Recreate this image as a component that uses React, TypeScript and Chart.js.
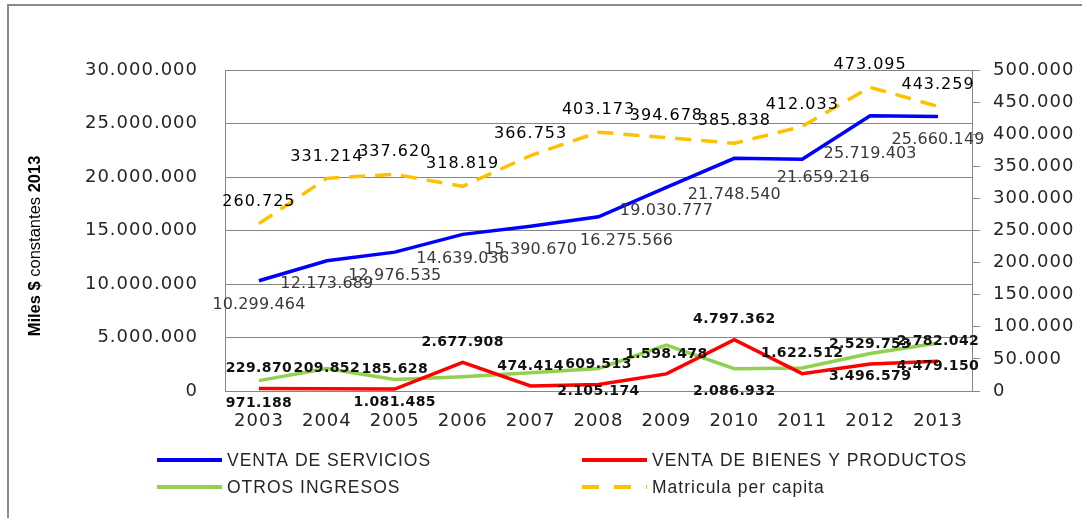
import { useEffect, useRef } from 'react';
import { Chart, registerables } from 'chart.js';

Chart.register(...registerables);

const years = ['2003', '2004', '2005', '2006', '2007', '2008', '2009', '2010', '2011', '2012', '2013'];
const ventaServicios = [10299464, 12173689, 12976535, 14639036, 15390670, 16275566, 19030777, 21748540, 21659216, 25719403, 25660149];
const ventaBienes = [229870, 209852, 185628, 2677908, 474414, 609513, 1598478, 4797362, 1622512, 2529753, 2782042];
const otrosIngresos = [971188, 2100000, 1081485, 1340000, 1710000, 2105174, 4300000, 2086932, 2150000, 3496579, 4479150];
const matricula = [260725, 331214, 337620, 318819, 366753, 403173, 394678, 385838, 412033, 473095, 443259];
const otrosLabelShown = [true, false, true, false, false, true, false, true, false, true, true];

const leftTicksMax = 30000000;
const leftTicksStep = 5000000;
const rightTicksMax = 500000;
const rightTicksStep = 50000;

const titleSegments = [
  { text: 'Miles $ ', weight: 'bold' },
  { text: 'constantes ', weight: 'normal' },
  { text: '2013', weight: 'bold' },
];

// label nudges (style only): [dx, dy] relative to point
const blueNudge = [[0, 24], [0, 23], [0, 24], [0, 24], [0, 24], [28, 24], [0, 23], [0, 37], [21, 19], [0, 38], [0, 23]];

const fmt = (n: number) => String(Math.round(n)).replace(/\B(?=(\d{3})+(?!\d))/g, '.');

const GRAY = '#868686';
const TXT = '#262626';

const spacingPlugin = {
  id: 'spacing',
  beforeDraw(chart: any) {
    chart.ctx.letterSpacing = '1px';
  },
};

const framePlugin = {
  id: 'frame',
  afterDraw(chart: any) {
    const ctx = chart.ctx;
    ctx.save();
    ctx.strokeStyle = '#8a8a8a';
    ctx.lineWidth = 2;
    ctx.strokeRect(8, 5, 1090, 530);
    ctx.restore();
  },
};

const labelsPlugin = {
  id: 'dlabels',
  afterDatasetsDraw(chart: any) {
    const ctx = chart.ctx;
    ctx.save();
    ctx.textAlign = 'center';
    ctx.textBaseline = 'middle';
    chart.data.datasets.forEach((ds: any, i: number) => {
      const meta = chart.getDatasetMeta(i);
      meta.data.forEach((pt: any, j: number) => {
        const v = ds.data[j];
        let dx = 0, dy = 0;
        if (ds.labelKind === 'blue') {
          ctx.font = 'normal 16px "DejaVu Sans"';
          ctx.letterSpacing = '0.15px';
          ctx.fillStyle = '#3a3a3a';
          dx = blueNudge[j][0];
          dy = blueNudge[j][1];
        } else if (ds.labelKind === 'red') {
          ctx.font = 'bold 14px "DejaVu Sans"';
          ctx.letterSpacing = '0.4px';
          ctx.fillStyle = '#111';
          dy = -20;
        } else if (ds.labelKind === 'green') {
          if (!otrosLabelShown[j]) return;
          ctx.font = 'bold 14px "DejaVu Sans"';
          ctx.letterSpacing = '0.4px';
          ctx.fillStyle = '#111';
          dy = 23;
        } else {
          ctx.font = 'normal 16px "DejaVu Sans"';
          ctx.letterSpacing = '1px';
          ctx.fillStyle = '#000';
          dy = -22;
        }
        ctx.fillText(fmt(v), pt.x + dx, pt.y + dy);
      });
    });
    ctx.restore();
  },
};

const legendPlugin = {
  id: 'customLegend',
  afterDraw(chart: any) {
    const ctx = chart.ctx;
    const cols = [157, 582];
    const rows = [460, 487];
    ctx.save();
    chart.data.datasets.forEach((ds: any, i: number) => {
      const x0 = cols[i % 2];
      const y = rows[Math.floor(i / 2)];
      ctx.beginPath();
      ctx.strokeStyle = ds.borderColor;
      ctx.lineWidth = 4;
      ctx.setLineDash(ds.borderDash ? [17, 15] : []);
      ctx.moveTo(x0, y);
      ctx.lineTo(x0 + 65, y);
      ctx.stroke();
      ctx.setLineDash([]);
      ctx.font = '17.5px "Liberation Sans"';
      ctx.letterSpacing = '1px';
      ctx.fillStyle = TXT;
      ctx.textAlign = 'left';
      ctx.textBaseline = 'middle';
      ctx.fillText(ds.label, x0 + 70, y + 1);
    });
    ctx.restore();
  },
};

const titlePlugin = {
  id: 'yTitle',
  afterDraw(chart: any) {
    const ctx = chart.ctx;
    ctx.save();
    ctx.letterSpacing = '0px';
    ctx.translate(35, 246);
    ctx.rotate(-Math.PI / 2);
    ctx.textBaseline = 'middle';
    ctx.textAlign = 'left';
    ctx.fillStyle = '#000';
    let total = 0;
    const widths = titleSegments.map((s) => {
      ctx.font = `${s.weight} 16.5px "Liberation Sans"`;
      const w = ctx.measureText(s.text).width;
      total += w;
      return w;
    });
    let x = -total / 2;
    titleSegments.forEach((s, k) => {
      ctx.font = `${s.weight} 16.5px "Liberation Sans"`;
      ctx.fillText(s.text, x, 0);
      x += widths[k];
    });
    ctx.restore();
  },
};

export default function App() {
  const ref = useRef<HTMLCanvasElement>(null);
  useEffect(() => {
    const tickFont = { family: 'DejaVu Sans', size: 18 };
    const chart = new Chart(ref.current!, {
      type: 'line',
      data: {
        labels: years,
        datasets: [
          { label: 'VENTA DE SERVICIOS', data: ventaServicios, borderColor: '#0000FF', borderWidth: 3.5, yAxisID: 'y', pointRadius: 0, tension: 0, labelKind: 'blue' } as any,
          { label: 'VENTA DE BIENES Y PRODUCTOS', data: ventaBienes, borderColor: '#FF0000', borderWidth: 3.5, yAxisID: 'y', pointRadius: 0, tension: 0, labelKind: 'red' } as any,
          { label: 'OTROS INGRESOS', data: otrosIngresos, borderColor: '#92D050', borderWidth: 3.5, yAxisID: 'y', pointRadius: 0, tension: 0, labelKind: 'green' } as any,
          { label: 'Matricula per capita', data: matricula, borderColor: '#FFC000', borderWidth: 3.5, borderDash: [16, 10], yAxisID: 'y1', pointRadius: 0, tension: 0, labelKind: 'orange' } as any,
        ],
      },
      options: {
        responsive: false,
        animation: false,
        devicePixelRatio: 1,
        layout: { padding: { top: 70, left: 0, right: 0, bottom: 82 } },
        plugins: { legend: { display: false }, tooltip: { enabled: false } },
        scales: {
          x: {
            type: 'category',
            offset: true,
            grid: { display: false, drawTicks: false },
            border: { display: true, color: GRAY },
            ticks: { font: tickFont, color: TXT, padding: 20, maxRotation: 0, autoSkip: false },
            afterFit: (s: any) => { s.height = 45; },
          },
          y: {
            position: 'left',
            min: 0,
            max: leftTicksMax,
            ticks: { stepSize: leftTicksStep, callback: (v: any) => fmt(Number(v)), font: tickFont, color: TXT, padding: 27 },
            grid: { color: GRAY, drawTicks: false },
            border: { color: GRAY },
            afterFit: (s: any) => { s.width = 225; },
          },
          y1: {
            position: 'right',
            min: 0,
            max: rightTicksMax,
            ticks: { stepSize: rightTicksStep, callback: (v: any) => fmt(Number(v)), font: tickFont, color: TXT, padding: 13 },
            grid: { drawOnChartArea: false, drawTicks: true, tickLength: 8, color: GRAY },
            border: { color: GRAY },
            afterFit: (s: any) => { s.width = 110; },
          },
        },
      } as any,
      plugins: [spacingPlugin, labelsPlugin, legendPlugin, titlePlugin, framePlugin],
    });
    return () => chart.destroy();
  }, []);
  return (
    <div style={{ position: 'fixed', left: 0, top: 0, width: 1082, height: 518, background: '#fff', overflow: 'hidden' }}>
      <canvas ref={ref} width={1082} height={518} style={{ display: 'block' }} />
    </div>
  );
}
